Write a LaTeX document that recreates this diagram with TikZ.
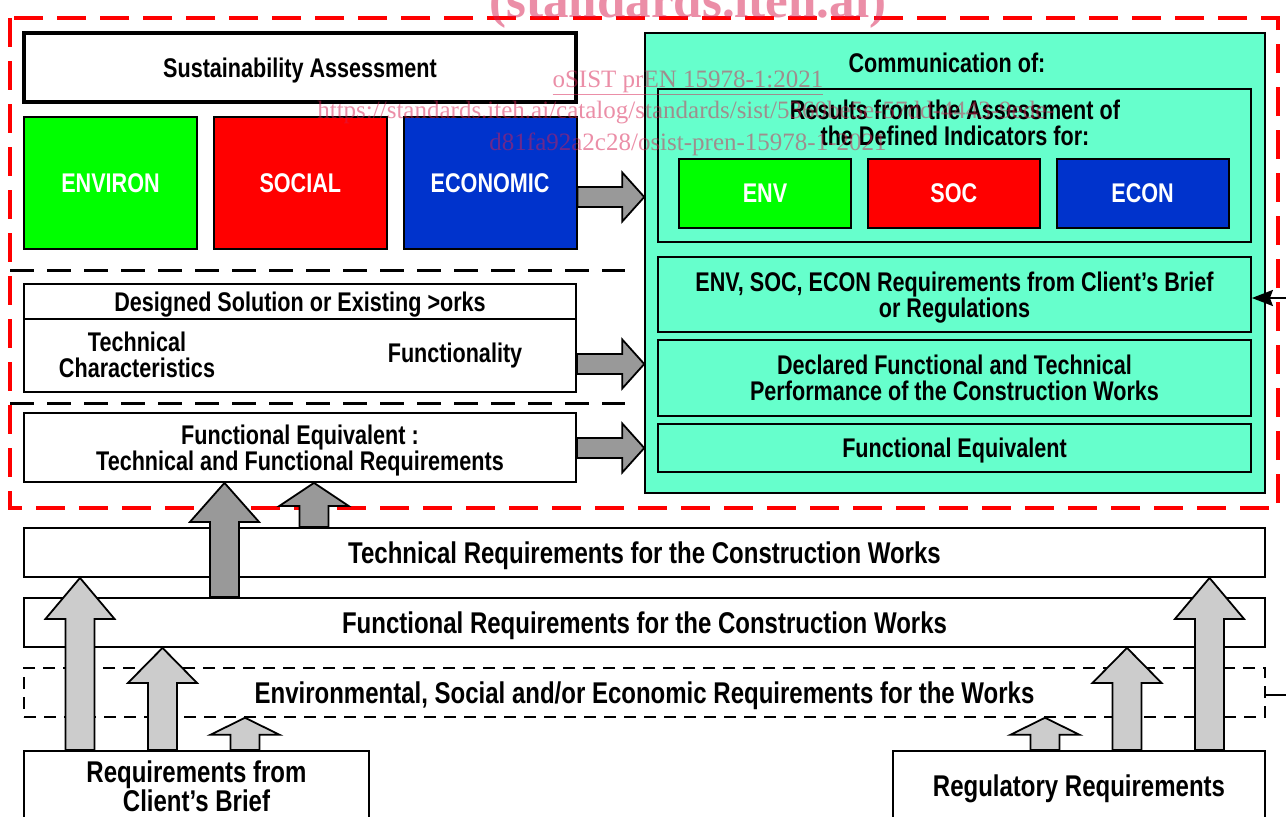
\documentclass[tikz,border=0pt]{standalone}
\usepackage{fontspec}
\setmainfont[FakeStretch=0.8]{Liberation Sans}
\newfontfamily\wmfont{Liberation Serif}
\usepackage{xcolor}
\usepackage{tikz}
\usetikzlibrary{positioning,arrows.meta}

\definecolor{envgreen}{RGB}{0,255,0}
\definecolor{socred}{RGB}{255,0,0}
\definecolor{econblue}{RGB}{0,51,204}
\definecolor{commgreen}{RGB}{102,255,204}
\definecolor{darkarr}{RGB}{153,153,153}
\definecolor{lightarr}{RGB}{204,204,204}
\definecolor{wmpink}{RGB}{215,30,80}

\newcommand{\boxfont}{\bfseries\fontsize{27}{26}\selectfont}
\newcommand{\rowfont}{\bfseries\fontsize{30}{29}\selectfont}

% fat up arrow: fill, x, from (anchor), to (anchor), head length
\newcommand{\blockup}[5]{%
	\path (#3 -| #2,0) coordinate (bs) (#4 -| #2,0) coordinate (tp);
	\draw[blockarr,fill=#1] ([xshift=-14.5pt]bs) -- ([xshift=-14.5pt,yshift=-#5pt]tp)
		-- ([xshift=-34.5pt,yshift=-#5pt]tp) -- (tp) -- ([xshift=34.5pt,yshift=-#5pt]tp)
		-- ([xshift=14.5pt,yshift=-#5pt]tp) -- ([xshift=14.5pt]bs) -- cycle;}
% fat right arrow: from node, to node, y
\newcommand{\blockright}[3]{%
	\path (#1.east |- 0,#3) coordinate (bs) (#2.west |- 0,#3) coordinate (tp);
	\draw[blockarr,fill=darkarr] ([yshift=10pt]bs) -- ([xshift=-22pt,yshift=10pt]tp)
		-- ([xshift=-22pt,yshift=24.5pt]tp) -- (tp) -- ([xshift=-22pt,yshift=-24.5pt]tp)
		-- ([xshift=-22pt,yshift=-10pt]tp) -- ([yshift=-10pt]bs) -- cycle;}

\begin{document}
\begin{tikzpicture}[x=1pt,y=-1pt,
	lbl/.style={inner sep=0pt,align=center,text depth=0pt,font=\boxfont},
	plainbox/.style={lbl,draw,line width=1.8pt,fill=white},
	colbox/.style={plainbox,text=white},
	commbox/.style={plainbox,fill=commgreen,minimum width=593pt},
	reqbox/.style={plainbox,font=\rowfont,minimum width=1241pt,minimum height=49pt},
	blockarr/.style={draw,line width=1.8pt,line join=miter},
	redframe/.style={draw=red,line width=4pt,dash pattern=on 29pt off 14pt},
	groupline/.style={draw,line width=3pt,dash pattern=on 24pt off 13pt},
	watermark/.style={text=wmpink,text opacity=0.5,inner sep=0pt,anchor=base,font=\wmfont\fontsize{25}{25}\selectfont}]
	\useasboundingbox (0,0) rectangle (1286,817);
	\clip (0,0) rectangle (1286,817);

	% dashed groupings
	\draw[redframe] (10,18) rectangle (1278,508);
	\draw[groupline] (10,270) -- (625,270);
	\draw[groupline] (10,403) -- (625,403);

	% assessment
	\node[plainbox,line width=3.5pt,minimum width=552pt,minimum height=69pt] (sa) at (300,67.5) {Sustainability Assessment};
	\node[colbox,fill=envgreen,minimum width=173pt,minimum height=132pt] (env) at (110.5,183) {ENVIRON};
	\node[colbox,fill=socred,minimum width=173pt,minimum height=132pt] (soc) [right=15pt of env] {SOCIAL};
	\node[colbox,fill=econblue,minimum width=173pt,minimum height=132pt] (eco) [right=15pt of soc] {ECONOMIC};

	% designed solution
	\node[plainbox,minimum width=552pt,minimum height=35pt] (dhead) at (300,301.5) {Designed Solution or Existing >orks};
	\node[plainbox,minimum width=552pt,minimum height=73pt] (dbody) at (300,355.5) {};
	\node[lbl] (tchar) at (137,355) {Technical\\Characteristics};
	\node[lbl] (fnty) at (455,353) {Functionality};
	\node[plainbox,minimum width=552pt,minimum height=69pt] (feq) at (300,447.5) {Functional Equivalent :\\Technical and Functional Requirements};

	% communication
	\node[plainbox,fill=commgreen,line width=1.5pt,minimum width=620pt,minimum height=460pt] (comm) at (955,263) {};
	\node[lbl] (commtxt) at (947,63) {Communication of:};
	\node[commbox,minimum height=153pt] (res) at (954.5,165.5) {};
	\node[lbl] (restxt) at (955,123) {Results from the Assessment of\\the Defined Indicators for:};
	\node[colbox,fill=envgreen,minimum width=172pt,minimum height=69pt] (envi) at (765,193.5) {ENV};
	\node[colbox,fill=socred,minimum width=172pt,minimum height=69pt] (soci) [right=15pt of envi] {SOC};
	\node[colbox,fill=econblue,minimum width=172pt,minimum height=69pt] (econi) [right=15pt of soci] {ECON};
	\node[commbox,minimum height=75pt] (cbrief) at (954.5,294.5) {ENV, SOC, ECON Requirements from Client’s Brief\\or Regulations};
	\node[commbox,minimum height=76pt] (decl) at (954.5,378) {Declared Functional and Technical\\Performance of the Construction Works};
	\node[commbox,minimum height=48pt] (feqc) at (954.5,448) {Functional Equivalent};

	% requirements
	\node[reqbox] (tech) at (644.5,552.5) {Technical Requirements for the Construction Works};
	\node[reqbox] (func) at (644.5,622.5) {Functional Requirements for the Construction Works};
	\node[reqbox,line width=1.5pt,dash pattern=on 12pt off 8pt] (esoc) at (644.5,692.5) {Environmental, Social and/or Economic Requirements for the Works};
	\node[plainbox,font=\rowfont,minimum width=345pt,minimum height=70pt] (cli) at (196.5,786) {Requirements from\\Client’s Brief};
	\node[plainbox,font=\rowfont,minimum width=372pt,minimum height=70pt] (reg) at (1079,786) {Regulatory Requirements};

	\blockright{eco}{comm}{197}
	\blockright{dbody}{comm}{364}
	\blockright{feq}{comm}{448}

	\blockup{lightarr}{80}{cli.north}{tech.south}{41}
	\blockup{lightarr}{162.5}{cli.north}{func.south}{35}
	\blockup{lightarr}{245}{cli.north}{esoc.south}{17}
	\blockup{lightarr}{1209.5}{reg.north}{tech.south}{41}
	\blockup{lightarr}{1127}{reg.north}{func.south}{35}
	\blockup{lightarr}{1045}{reg.north}{esoc.south}{17}
	\blockup{darkarr}{224.5}{func.north}{feq.south}{39}
	\blockup{darkarr}{314}{tech.north}{feq.south}{23}

	% links coming in from the right
	\coordinate (rtop) at (1292,298);
	\coordinate (rbot) at (1292,695);
	\draw[line width=2.5pt,-{Stealth[length=21pt,width=16pt,inset=3pt]}] (rtop) -- (cbrief.east |- rtop);
	\draw[line width=2.5pt] (esoc.east |- rbot) -- (rbot);

	% stamp
	\node[watermark,font=\wmfont\bfseries\fontsize{51}{51}\selectfont] (wm1) at (688,17) {(standards.iteh.ai)};
	\node[watermark] (wm2) at (688,87) {\underline{oSIST prEN 15978-1:2021}};
	\node[watermark] (wm3) at (686,118) {https://standards.iteh.ai/catalog/standards/sist/5360be5e-57dd-4443-9ede-};
	\node[watermark] (wm4) at (688,150) {d81fa92a2c28/osist-pren-15978-1-2021};
\end{tikzpicture}
\end{document}
